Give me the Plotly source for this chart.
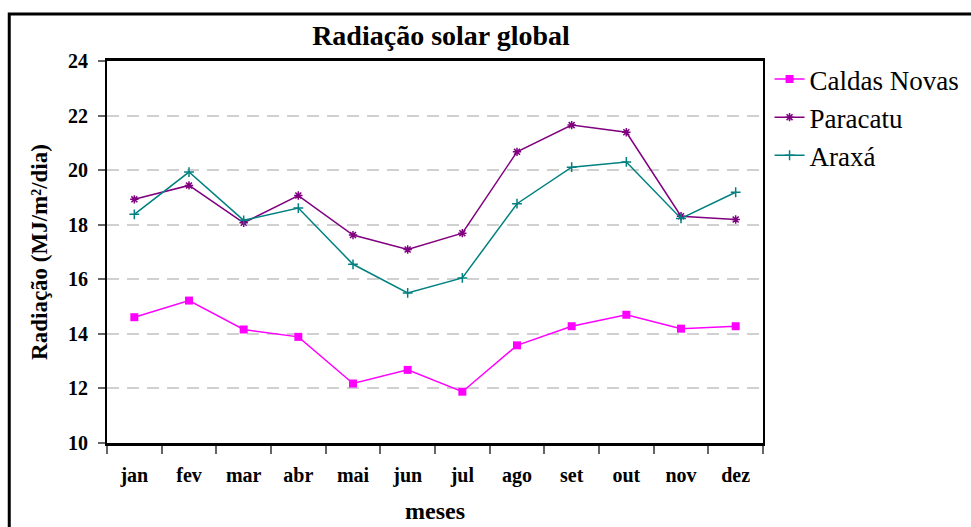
import plotly.graph_objects as go

meses = ["jan", "fev", "mar", "abr", "mai", "jun", "jul", "ago", "set", "out", "nov", "dez"]

caldas_novas = [14.61, 15.22, 14.16, 13.89, 12.18, 12.68, 11.88, 13.58, 14.28, 14.70, 14.19, 14.28]
paracatu = [18.93, 19.44, 18.07, 19.07, 17.62, 17.09, 17.69, 20.67, 21.65, 21.39, 18.31, 18.19]
araxa = [18.38, 19.93, 18.16, 18.61, 16.55, 15.50, 16.05, 18.77, 20.11, 20.30, 18.23, 19.19]

y_ticks = [10, 12, 14, 16, 18, 20, 22, 24]

serif = "Liberation Serif, Times New Roman, serif"

fig = go.Figure()
fig.add_trace(go.Scatter(
    x=meses, y=caldas_novas, name="Caldas Novas", mode="lines+markers",
    line=dict(color="#FF00FF", width=1.5),
    marker=dict(symbol="square", size=8, color="#FF00FF"),
))
fig.add_trace(go.Scatter(
    x=meses, y=paracatu, name="Paracatu", mode="lines+markers",
    line=dict(color="#800080", width=1.5),
    marker=dict(symbol="asterisk-open", size=7, line=dict(color="#800080", width=1.5)),
))
fig.add_trace(go.Scatter(
    x=meses, y=araxa, name="Araxá", mode="lines+markers",
    line=dict(color="#008080", width=1.5),
    marker=dict(symbol="cross-thin-open", size=7, line=dict(color="#008080", width=1.5)),
))

# outer chart frame
fig.add_shape(type="rect", xref="paper", yref="paper",
              x0=-0.149, x1=1.6, y0=-0.5, y1=1.123,
              line=dict(color="black", width=3), layer="below")

fig.update_layout(
    width=971, height=527,
    margin=dict(l=107, r=208, t=61, b=84, autoexpand=False),
    paper_bgcolor="white", plot_bgcolor="white",
    font=dict(family=serif, color="black"),
    title=dict(text="<b>Radiação solar global</b>", x=441 / 971, xref="container",
               xanchor="center", y=1 - 35 / 527, yref="container", yanchor="middle",
               font=dict(size=28, family=serif, color="black")),
    legend=dict(x=1.01, xanchor="left", y=1 - (55 - 61) / 382, yanchor="top",
                font=dict(size=27, family=serif, color="black"),
                bgcolor="rgba(0,0,0,0)", tracegroupgap=0, itemwidth=30),
    xaxis=dict(
        type="category", tickson="boundaries", ticks="outside", ticklen=8,
        tickcolor="#666", tickwidth=1.5,
        showline=True, linecolor="black", linewidth=2.5, mirror=True,
        showgrid=False, range=[-0.5, 11.5], automargin=False,
        tickfont=dict(size=20, family=serif, color="black", weight="bold"),
        ticklabelstandoff=12,
        title=dict(text="<b>meses</b>", font=dict(size=24, family=serif, color="black"), standoff=17),
    ),
    yaxis=dict(
        range=[10, 24], tickvals=y_ticks, ticks="outside", ticklen=7,
        tickcolor="#666", tickwidth=1.5,
        showline=True, linecolor="black", linewidth=2, mirror=True,
        showgrid=True, gridcolor="#D0D0D0", gridwidth=1.5, griddash="12px,8px",
        zeroline=False, automargin=False,
        tickfont=dict(size=20, family=serif, color="black", weight="bold"),
        ticklabelstandoff=6,
        title=dict(text="<b>Radiação (MJ/m²/dia)</b>", font=dict(size=23, family=serif, color="black"), standoff=14),
    ),
)

fig.write_html("out.html")
